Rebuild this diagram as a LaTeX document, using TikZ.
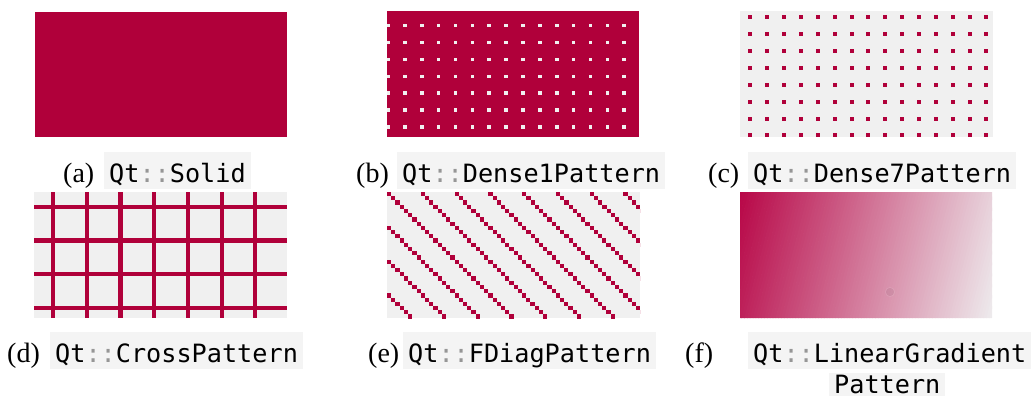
\documentclass[tikz,border=0pt]{standalone}
\usepackage{fontspec}
\setmainfont{Liberation Serif}
\setmonofont{DejaVu Sans Mono}
\definecolor{qtred}{RGB}{176,0,58}
\definecolor{panelbg}{RGB}{240,240,240}
\definecolor{codebg}{RGB}{244,244,244}
\definecolor{colon}{RGB}{150,150,150}
\definecolor{gstart}{RGB}{184,8,72}
\definecolor{gend}{RGB}{238,236,238}
\newcommand{\qtcolons}{\textcolor{colon}{::}}
\begin{document}
\begin{tikzpicture}[x=1pt,y=-1pt,
  lab/.style={font=\fontsize{28}{32}\selectfont, anchor=base west, inner sep=0pt},
  code/.style={font=\fontsize{25.2}{30}\ttfamily, fill=codebg, anchor=base west,
    inner xsep=5pt, inner ysep=0pt, text height=30pt, text depth=7pt},
  codetwo/.style={code, text height=20pt, text depth=3pt}
]
\useasboundingbox (0,0) rectangle (1034,396);

% (a) solid
\fill[qtred] (35,12) rectangle (287,137);

% (b) Dense1
\begin{scope}
  \clip (387,11) rectangle (639,137);
  \fill[qtred] (387,11) rectangle (639,137);
  \foreach \i in {0,...,14}
    \foreach \j in {0,...,6}
      \fill[panelbg] ({388+16.87*\i-1.8},{25.7+16.87*\j-1.8}) rectangle +(3.6,3.6);
\end{scope}

% (c) Dense7
\begin{scope}
  \clip (740,11) rectangle (993,137);
  \fill[panelbg] (740,11) rectangle (993,137);
  \foreach \i in {0,...,14}
    \foreach \j in {0,...,7}
      \fill[qtred] ({750.3+16.87*\i-2},{17.3+16.87*\j-2}) rectangle +(4,4);
\end{scope}

% (d) Cross
\begin{scope}
  \clip (34,192) rectangle (287,318);
  \fill[panelbg] (34,192) rectangle (287,318);
  \foreach \i in {0,...,6}
    \fill[qtred] ({53+33.73*\i-2.1},192) rectangle +(4.2,126);
  \foreach \j in {0,...,3}
    \fill[qtred] (34,{206.7+33.77*\j-2.1}) rectangle +(253,4.2);
\end{scope}

% (e) FDiag
\begin{scope}
  \clip (387,192) rectangle (640,318);
  \fill[panelbg] (387,192) rectangle (640,318);
  \foreach \k in {-3,...,7}
    \foreach \i in {0,...,30}
      \fill[qtred] ({387+33.77*\k+4.22*\i},{192+4.22*\i}) rectangle +(4.22,4.22);
\end{scope}

% (f) Linear gradient
\begin{scope}
  \clip (740,192) rectangle (992,318);
  \foreach \i in {0,...,99}{
    \pgfmathsetmacro\xa{740+2.848*\i}
    \pgfmathsetmacro\xb{\xa+3.4}
    \colorlet{gc}{gend!\i!gstart}
    \fill[gc] (\xa,192) -- (\xb,192) -- ({\xb-32.8},318) -- ({\xa-32.8},318) -- cycle;
  }
  \fill[black, opacity=0.05] (890,292) circle (4.2);
  \draw[white, opacity=0.12, line width=0.6pt] (890,292) circle (4.6);
\end{scope}

% captions row 1
\node[lab] (la) at (63,182) {(a)};
\node[code] (ca) at (104,182) {Qt\qtcolons Solid};
\node[lab] (lb) at (356,182) {(b)};
\node[code] (cb) at (397,182) {Qt\qtcolons Dense1Pattern};
\node[lab] (lc) at (708,182) {(c)};
\node[code] (cc) at (748,182) {Qt\qtcolons Dense7Pattern};

% captions row 2
\node[lab] (ld) at (7,362) {(d)};
\node[code] (cd) at (50,362) {Qt\qtcolons CrossPattern};
\node[lab] (le) at (368,362) {(e)};
\node[code] (ce) at (403,362) {Qt\qtcolons FDiagPattern};
\node[lab] (lf) at (685,362) {(f)};
\node[code] (cf) at (748,362) {Qt\qtcolons LinearGradient};
\node[codetwo] (cf2) at (829,393) {Pattern};
\end{tikzpicture}
\end{document}
